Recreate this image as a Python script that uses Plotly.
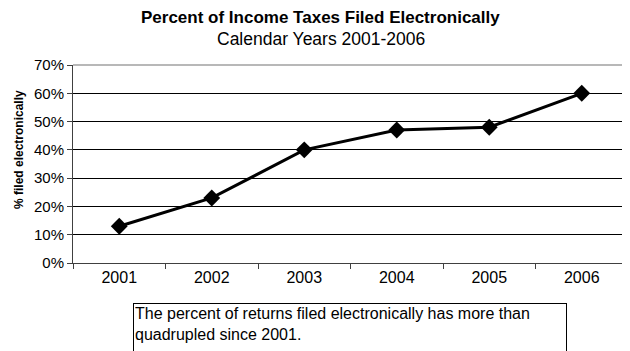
import plotly.graph_objects as go

years = ["2001", "2002", "2003", "2004", "2005", "2006"]
pct_electronic = [0.13, 0.23, 0.40, 0.47, 0.48, 0.60]
y_ticks = [0, 0.1, 0.2, 0.3, 0.4, 0.5, 0.6, 0.7]
y_tick_labels = ["0%", "10%", "20%", "30%", "40%", "50%", "60%", "70%"]

title_text = "Percent of Income Taxes Filed Electronically"
subtitle_text = "Calendar Years 2001-2006"
y_title = "% filed electronically"
note_text = "The percent of returns filed electronically has more than<br>quadrupled since 2001."

FONT = "Arial, Liberation Sans, sans-serif"

OFF = 8  # page body margin
W, H = 630 - OFF, 351 - OFF
L, T, R, B = 73 - OFF, 65 - OFF, 628 - OFF, 263 - OFF
PW, PH = R - L, B - T


def px_x(x):
    return (x - OFF - L) / PW


def px_y(y):
    return (B - (y - OFF)) / PH


fig = go.Figure()
fig.add_trace(go.Scatter(
    x=years, y=pct_electronic, mode="lines+markers",
    line=dict(color="black", width=3),
    marker=dict(symbol="diamond", size=13, color="black"),
    showlegend=False, cliponaxis=False,
))

fig.update_layout(
    width=W, height=H,
    margin=dict(l=L, r=W - R, t=T, b=H - B, autoexpand=False),
    paper_bgcolor="white", plot_bgcolor="white",
    font=dict(family=FONT, color="black", size=14),
    xaxis=dict(
        type="category", tickson="boundaries", ticks="outside", ticklen=5,
        tickcolor="#404040", showline=True, linecolor="#404040", linewidth=1,
        showgrid=False, tickfont=dict(size=16), range=[-0.5, 5.5], automargin=False,
    ),
    yaxis=dict(
        range=[0, 0.7], tickvals=y_ticks, ticktext=y_tick_labels,
        ticks="outside", ticklen=5, tickcolor="#404040",
        showline=True, linecolor="#404040", linewidth=1,
        showgrid=True, gridcolor="black", gridwidth=1,
        tickfont=dict(size=15), zeroline=False, automargin=False,
    ),
    shapes=[dict(type="line", xref="paper", yref="paper", x0=0, x1=1, y0=1, y1=1,
                 line=dict(color="#a0a0a0", width=1.5)),
            dict(type="line", xref="paper", yref="paper", x0=1, x1=1, y0=0, y1=1,
                 line=dict(color="#a0a0a0", width=1.5))],
    annotations=[
        dict(text="<b>" + title_text + "</b>", xref="paper", yref="paper",
             x=px_x(320), y=px_y(18), xanchor="center", yanchor="middle",
             showarrow=False, font=dict(size=17)),
        dict(text=subtitle_text, xref="paper", yref="paper",
             x=px_x(321), y=px_y(39), xanchor="center", yanchor="middle",
             showarrow=False, font=dict(size=17.5)),
        dict(text="<b>" + y_title + "</b>", xref="paper", yref="paper",
             x=px_x(19), y=px_y(150), xanchor="center", yanchor="middle",
             textangle=-90, showarrow=False, font=dict(size=12)),
        dict(text=note_text, xref="paper", yref="paper",
             x=px_x(133), y=px_y(303), xanchor="left", yanchor="top",
             align="left", valign="top", showarrow=False, font=dict(size=16),
             bordercolor="black", borderwidth=1, borderpad=1, bgcolor="white",
             width=430, height=60),
    ],
)

fig.write_html("out.html")
